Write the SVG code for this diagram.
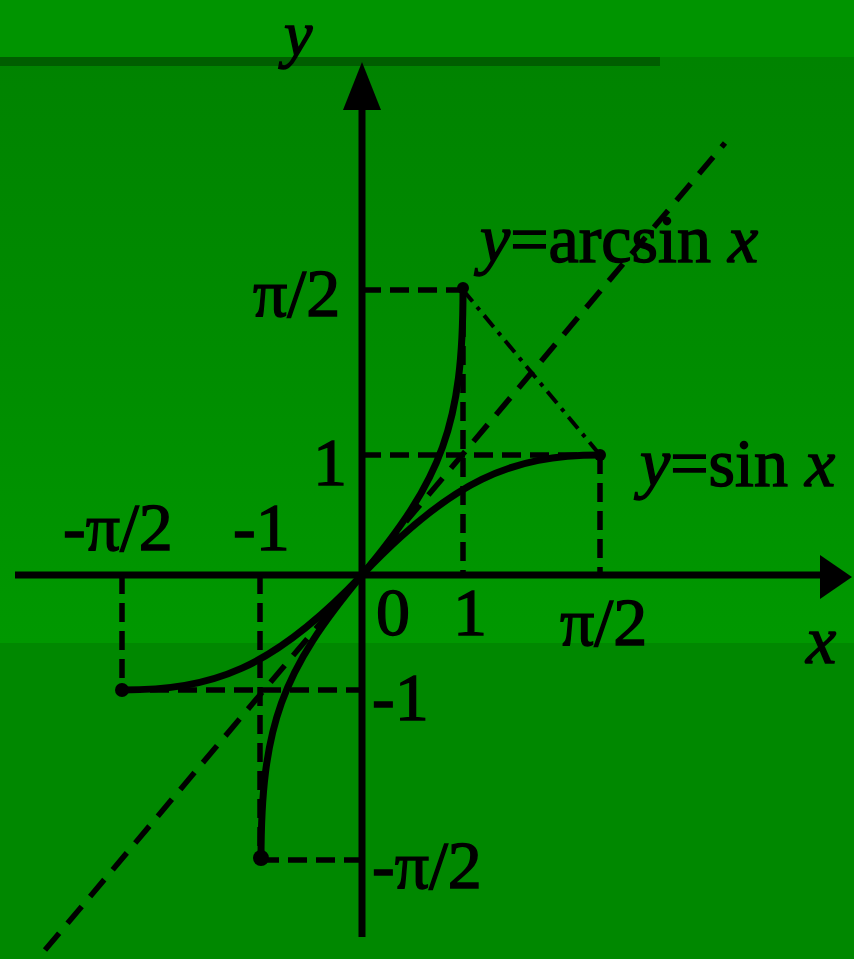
<svg xmlns="http://www.w3.org/2000/svg" width="854" height="959" viewBox="0 0 854 959">
  <defs>
    <linearGradient id="bgGrad" x1="0" y1="0" x2="0" y2="1">
      <stop offset="0" stop-color="#008300"/>
      <stop offset="0.5" stop-color="#008c00"/>
      <stop offset="1" stop-color="#009800"/>
    </linearGradient>
  </defs>
  <style>
    .axis { stroke:#000; stroke-width:7; fill:none; }
    .curve { stroke:#000; stroke-width:7; fill:none; stroke-linecap:round; }
    .guide { stroke:#000; stroke-width:5.5; fill:none; stroke-dasharray:19 9; }
    .diag { stroke:#000; stroke-width:5.5; fill:none; stroke-dasharray:22 13; }
    .sym { stroke:#000; stroke-width:4; fill:none; stroke-dasharray:15 7 4 7; }
    .lbl { font-family:"Liberation Serif","Times New Roman",serif; font-size:68px; fill:#000; stroke:#000; stroke-width:1.4; }
    .it { font-style:italic; }
  </style>
  <g id="background">
    <rect x="0" y="0" width="854" height="959" fill="#008800"/>
    <rect x="0" y="0" width="854" height="57" fill="#009400"/>
    <rect x="0" y="57" width="854" height="586" fill="url(#bgGrad)"/>
    <rect x="0" y="57" width="660" height="9" fill="#005e00"/>
  </g>
  <g id="guides">
    <line class="guide" x1="362" y1="290" x2="463" y2="290"/>
    <line class="guide" x1="362" y1="455" x2="600" y2="455"/>
    <line class="guide" x1="463" y1="290" x2="463" y2="575"/>
    <line class="guide" x1="600" y1="455" x2="600" y2="575"/>
    <line class="guide" x1="122" y1="575" x2="122" y2="690"/>
    <line class="guide" x1="260" y1="575" x2="260" y2="860"/>
    <line class="guide" x1="122" y1="690" x2="362" y2="690"/>
    <line class="guide" x1="260" y1="860" x2="362" y2="860"/>
    <line class="diag" x1="45" y1="950" x2="725" y2="143"/>
    <line class="sym" x1="463" y1="290" x2="600" y2="455"/>
  </g>
  <g id="axes">
    <line class="axis" x1="15" y1="575" x2="825" y2="575"/>
    <polygon points="852,577 820,555 820,599" fill="#000"/>
    <line class="axis" x1="362" y1="100" x2="362" y2="937"/>
    <polygon points="362,62 343,110 381,110" fill="#000"/>
  </g>
  <g id="sin-curve">
    <path class="curve" d="M122,690 C212,690 272,670 362,575 C452,480 512,455 600,455"/>
    <circle cx="122" cy="690" r="7" fill="#000"/>
    <circle cx="600" cy="455" r="6" fill="#000"/>
  </g>
  <g id="arcsin-curve">
    <path class="curve" d="M261,860 C261,725 282,671 362,575 C442,479 463,425 463,290"/>
    <circle cx="261" cy="858" r="8" fill="#000"/>
    <circle cx="463" cy="288" r="6" fill="#000"/>
  </g>
  <g id="labels">
    <text class="lbl it" x="284" y="55" style="font-size:64px">y</text>
    <text class="lbl" x="253" y="316">π/2</text>
    <text class="lbl" x="313" y="485">1</text>
    <text class="lbl" x="63" y="550">-π/2</text>
    <text class="lbl" x="233" y="550">-1</text>
    <text class="lbl" x="376" y="635">0</text>
    <text class="lbl" x="453" y="635">1</text>
    <text class="lbl" x="560" y="645">π/2</text>
    <text class="lbl it" x="806" y="663">x</text>
    <text class="lbl" x="372" y="720">-1</text>
    <text class="lbl" x="372" y="888">-π/2</text>
    <text class="lbl" x="480" y="262"><tspan class="it">y</tspan>=arcsin <tspan class="it">x</tspan></text>
    <text class="lbl" x="640" y="486"><tspan class="it">y</tspan>=sin <tspan class="it">x</tspan></text>
  </g>
</svg>
